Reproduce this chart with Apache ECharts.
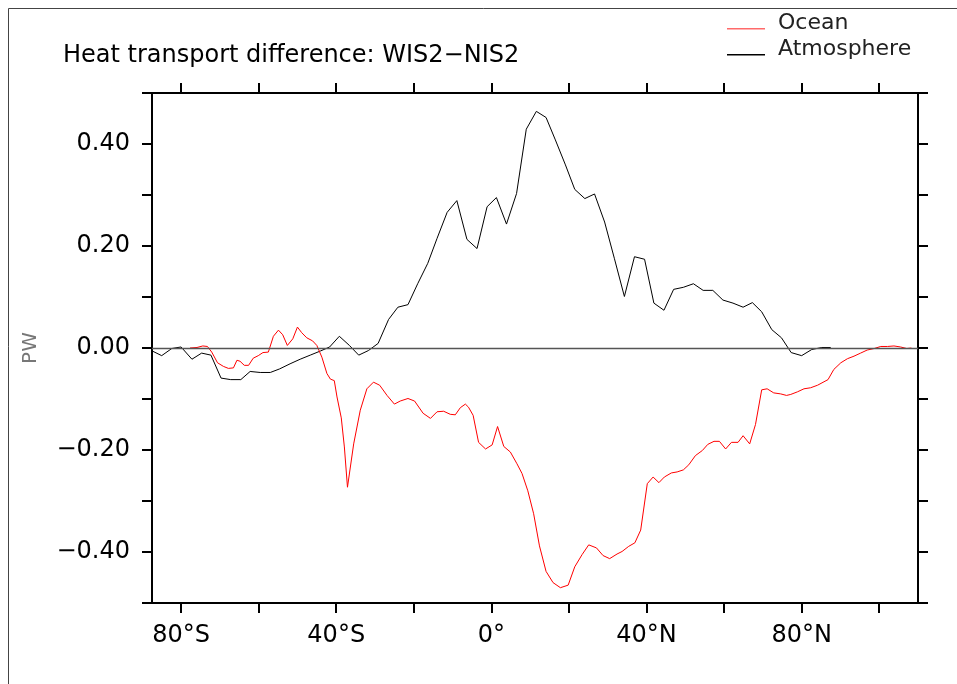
<!DOCTYPE html>
<html>
<head>
<meta charset="utf-8">
<script src="https://cdn.jsdelivr.net/npm/echarts@6/dist/echarts.min.js"></script>
<style>
  html, body { margin: 0; padding: 0; background: #fff; }
  #chart { width: 957px; height: 684px; }
</style>
</head>
<body>
<div id="chart"></div>
<script>
// Zonal heat transport difference (WIS2 minus NIS2), in PW

const atmLat = [-87.4, -85.0, -82.4, -80.0, -77.2, -74.7, -72.3, -69.7, -67.2, -64.6,
  -62.2, -59.6, -57.0, -54.6, -51.9, -49.3, -46.7, -44.1, -41.7, -39.2,
  -36.6, -34.2, -31.7, -29.2, -26.5, -24.1, -21.5, -19.0, -16.4, -14.0,
  -11.4, -8.9, -6.3, -3.7, -1.1, 1.3, 3.9, 6.5, 9.0, 11.6,
  14.1, 16.5, 19.1, 21.5, 24.1, 26.6, 29.2, 31.7, 34.3, 36.9,
  39.5, 41.9, 44.5, 47.0, 49.5, 52.1, 54.6, 57.1, 59.7, 62.3,
  64.9, 67.3, 69.7, 72.3, 74.8, 77.3, 80.0, 82.6, 85.2, 87.5];
const atmosphere = [-0.006, -0.015, -0.001, 0.002, -0.022, -0.010, -0.014, -0.059, -0.062, -0.062,
  -0.046, -0.048, -0.048, -0.041, -0.031, -0.022, -0.014, -0.006, 0.002, 0.023,
  0.005, -0.014, -0.005, 0.009, 0.056, 0.080, 0.085, 0.126, 0.166, 0.215,
  0.266, 0.289, 0.213, 0.195, 0.277, 0.295, 0.243, 0.303, 0.429, 0.464,
  0.452, 0.408, 0.359, 0.311, 0.293, 0.302, 0.247, 0.176, 0.101, 0.179,
  0.174, 0.088, 0.074, 0.115, 0.119, 0.126, 0.113, 0.113, 0.094, 0.088,
  0.080, 0.089, 0.071, 0.036, 0.020, -0.009, -0.015, -0.003, 0.001, 0.001];

const ocnLat = [-77.7, -75.9, -74.4, -73.2, -72.1, -70.6, -69.1, -67.8, -66.5, -65.6,
  -64.8, -63.7, -62.6, -61.4, -60.1, -58.9, -57.5, -56.2, -54.9, -53.8,
  -52.6, -51.2, -50.0, -48.9, -47.6, -46.1, -45.0, -43.7, -42.4, -41.5,
  -40.5, -39.8, -38.7, -37.9, -37.1, -35.5, -33.8, -32.1, -30.4, -28.8,
  -26.9, -25.0, -23.5, -21.5, -19.8, -17.6, -15.7, -14.0, -12.3, -10.6,
  -9.3, -8.0, -6.7, -5.9, -4.7, -3.3, -1.5, 0.2, 1.6, 3.2,
  4.9, 6.6, 7.9, 9.4, 10.9, 12.4, 14.1, 15.9, 17.8, 19.8,
  21.5, 23.4, 25.1, 27.1, 28.8, 30.5, 32.4, 33.7, 35.4, 37.0,
  38.5, 40.2, 41.7, 43.2, 44.6, 46.4, 47.9, 49.5, 50.9, 52.6,
  54.4, 55.8, 57.4, 58.8, 60.4, 61.9, 63.6, 64.9, 66.6, 68.1,
  69.7, 71.1, 72.8, 74.6, 76.1, 77.2, 78.9, 80.6, 82.3, 84.1,
  86.8, 88.3, 90.1, 91.8, 93.5, 95.2, 96.9, 98.7, 100.4, 102.1,
  103.8, 105.5, 107.1, 108.3];
const ocean = [0.000, 0.001, 0.004, 0.003, -0.008, -0.029, -0.036, -0.040, -0.039, -0.024,
  -0.026, -0.034, -0.034, -0.020, -0.015, -0.009, -0.008, 0.023, 0.035, 0.026,
  0.005, 0.018, 0.041, 0.030, 0.020, 0.014, 0.005, -0.018, -0.050, -0.061,
  -0.064, -0.096, -0.137, -0.194, -0.273, -0.188, -0.122, -0.080, -0.067, -0.073,
  -0.093, -0.110, -0.104, -0.099, -0.104, -0.128, -0.138, -0.125, -0.124, -0.130,
  -0.131, -0.117, -0.110, -0.116, -0.132, -0.185, -0.198, -0.190, -0.154, -0.193,
  -0.204, -0.227, -0.246, -0.280, -0.325, -0.388, -0.438, -0.460, -0.470, -0.465,
  -0.429, -0.405, -0.386, -0.392, -0.407, -0.413, -0.404, -0.399, -0.389, -0.382,
  -0.357, -0.266, -0.253, -0.264, -0.253, -0.245, -0.243, -0.239, -0.229, -0.211,
  -0.201, -0.189, -0.183, -0.183, -0.198, -0.185, -0.185, -0.172, -0.188, -0.150,
  -0.082, -0.080, -0.088, -0.090, -0.093, -0.091, -0.086, -0.080, -0.078, -0.073,
  -0.062, -0.042, -0.029, -0.021, -0.016, -0.010, -0.004, -0.001, 0.003, 0.003,
  0.004, 0.002, -0.001, 0.000];

// Axis ticks and their labels
const xTickMarks = [-80, -60, -40, -20, 0, 20, 40, 60, 80, 100];
const xTickValues = [-80, -40, 0, 40, 80];
const xTickLabels = ['80°S', '40°S', '0°', '40°N', '80°N'];
const yTickMarks = [-0.5, -0.4, -0.3, -0.2, -0.1, 0, 0.1, 0.2, 0.3, 0.4, 0.5];
const yTickValues = [-0.4, -0.2, 0, 0.2, 0.4];
const yTickLabels = ['−0.40', '−0.20', '0.00', '0.20', '0.40'];

const FONT = 'DejaVu Sans';
const zip = (xs, ys) => xs.map((x, i) => [x, ys[i]]);

function xLabel(v) {
  const i = xTickValues.findIndex(t => Math.abs(t - v) < 1e-6);
  return i >= 0 ? xTickLabels[i] : '';
}
function yLabel(v) {
  const i = yTickValues.findIndex(t => Math.abs(t - v) < 1e-6);
  return i >= 0 ? yTickLabels[i] : '';
}

const axisLine = { show: true, onZero: false, lineStyle: { color: '#000', width: 2 } };
const tickStyle = { color: '#000', width: 2 };

const xBase = {
  type: 'value', min: -87.5, max: 110,
  axisLine, splitLine: { show: false },
  axisTick: { show: true, inside: false, length: 10, lineStyle: tickStyle, customValues: xTickMarks }
};
const yBase = {
  type: 'value', min: -0.5, max: 0.5, interval: 0.1,
  axisLine, splitLine: { show: false },
  axisTick: { show: true, inside: false, length: 10, lineStyle: tickStyle, customValues: yTickMarks }
};

const chart = echarts.init(document.getElementById('chart'), null, { renderer: 'canvas' });
chart.setOption({
  animation: false,
  backgroundColor: '#fff',
  title: {
    text: 'Heat transport difference: WIS2\u2212NIS2',
    left: 58, top: 39,
    textStyle: { fontFamily: FONT, fontSize: 24, fontWeight: 'normal', color: '#000' }
  },
  legend: {
    orient: 'vertical', left: 727, top: 12, padding: 0,
    itemWidth: 38, itemHeight: 13, itemGap: 4,
    icon: 'path://M0,0 L38,0 L38,0.01 L0,0.01 Z M0,11.5 L38,11.5 L38,13 L0,13 Z',
    textStyle: { fontFamily: FONT, fontSize: 22, color: '#222', padding: [0, 0, 0, 8] },
    data: ['Ocean', 'Atmosphere']
  },
  graphic: [{
    type: 'rect', silent: true,
    shape: { x: 8.5, y: 8.5, width: 1000, height: 1000 },
    style: { fill: 'none', stroke: '#444', lineWidth: 1 }
  }],
  grid: { left: 152, right: 39, top: 93, bottom: 81, containLabel: false },
  xAxis: [
    Object.assign({}, xBase, {
      position: 'bottom',
      axisLabel: { customValues: xTickValues, formatter: xLabel, margin: 21,
        fontFamily: FONT, fontSize: 24, color: '#000' }
    }),
    Object.assign({}, xBase, { position: 'top', axisLabel: { show: false } })
  ],
  yAxis: [
    Object.assign({}, yBase, {
      position: 'left',
      name: 'PW', nameLocation: 'middle', nameGap: 111, nameRotate: 90,
      nameTextStyle: { fontFamily: FONT, fontSize: 20, color: '#777' },
      axisLabel: { customValues: yTickValues, formatter: yLabel, margin: 22,
        fontFamily: FONT, fontSize: 24, color: '#000' }
    }),
    Object.assign({}, yBase, { position: 'right', axisLabel: { show: false } })
  ],
  series: [
    {
      name: 'Ocean', type: 'line', xAxisIndex: 0, yAxisIndex: 0,
      color: '#ff6a6a',
      data: zip(ocnLat, ocean), showSymbol: false, symbol: 'none',
      lineStyle: { color: '#ff0000', width: 1 }, itemStyle: { color: '#ff6a6a' },
      z: 3
    },
    {
      name: 'Atmosphere', type: 'line', xAxisIndex: 0, yAxisIndex: 0,
      color: '#000',
      data: zip(atmLat, atmosphere), showSymbol: false, symbol: 'none',
      lineStyle: { color: '#000', width: 1 }, itemStyle: { color: '#000' },
      markLine: {
        silent: true, symbol: ['none', 'none'], label: { show: false },
        lineStyle: { color: '#555', width: 1.3, type: 'solid' },
        data: [{ yAxis: 0 }]
      },
      z: 2
    }
  ]
});
</script>
</body>
</html>
